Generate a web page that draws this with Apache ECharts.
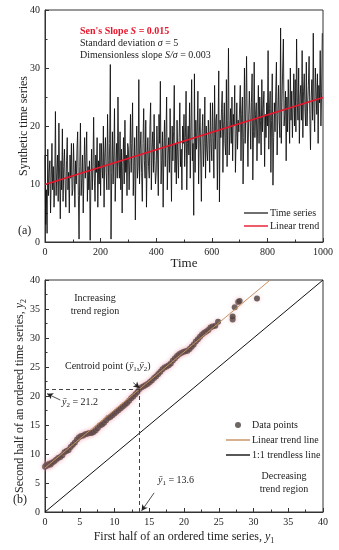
<!DOCTYPE html>
<html><head><meta charset="utf-8">
<script src="https://cdn.jsdelivr.net/npm/echarts@6/dist/echarts.min.js"></script>
<style>html,body{margin:0;padding:0;background:#fff}#c{width:339px;height:550px}</style>
</head><body><div id="c"></div>
<script>
// ---------- Panel (a) data ----------
const TIME_STEP = 2.5;
const seriesValues = [
15,3,9,1.5,16,8,12,14,5,11,17,9,13,6,10,22.5,8,12,15,7,20.5,11,4,14,9,19.5,7,13,16,10,6,14,18,9,12,5,15,11,17,8,
9,17,12,6,14,10,16,19,8,0.5,13,20.5,8,11,15,5,12,18,11,14,19,7,13,9,14,0.3,10,16,9,13,21.5,11,7,15,12,18,6,14,10,17,
8,17,13,11,20,6,15,18,12,9,22,14,9,17,30.6,0.5,12,19,10,15,23,7,13,17,11,25,14,11,19,9,16,5,13,18,10,21,12,15,8,17,
16,9,14,22,12,17,24,8,13,18,3.8,15,20,11,13,28,10,16,19,12,7,17,23,14,11,21,6,15,18,13,11,20,24,9,16,19,12,22,14,10,
12,20,15,8,22,17,27.7,10,14,19,6,16,21,13,18,25,9,15,18,12,23,16,7,20,14,19,27,12,17,10,21,15,11,18,24,13,16,9,20,17,
22,13,18,26,9,17,20,15,24,11,19,28,14,17,4.6,29,12,21,16,19,26,10,18,23,15,7,19,22,13,17,25,11,20,16,14,21,18,12,24,17,
14,24,18,11,27,16,21,22,9,19,29.5,6.9,21,18,23,26,12,20,24,17,15,28,13,21,33.4,15,19,23,17,25,14,22,20,27,12,18,24,16,21,19,
19,27,14,22,25,10,18,30,17,23,32,20,13,21,26,22,16,24,29,10.7,19,31,18,22,24,14,20,27,17,25,21,15,28,19,23,26,13,22,18,24,
20,33,16,23,26,12,21,29,9.8,18,24,19,26,31,15,22,27,21,18,36.9,17,24,30,35,20,22,26,14,25,19,28,23,17,30,21,26,18,24,29,20,
28,19,35,24,21,30,17,25,27,21,33,18,26,29,23,20,31,20,24,27,32,22,15.9,25,28,21,36,23,19,30,26,22,29,17,27,24,33,20,26,36
];
const trendTime = [0, 1000];
const trendValue = [9.9, 24.9];
const axisTicksA = { xMin: 0, xMax: 1000, xStep: 200, yMin: 0, yMax: 40, yStep: 10 };

// ---------- Panel (b) data ----------
const firstHalf = [0,0.2,0.4,0.6,0.8,1.0,1.3,1.6,1.9,2.2,2.5,2.8,3.1,3.4,3.7,4.0,4.3,4.6,4.9,5.2,5.5,5.8,6.1,6.4,6.7,7.0,7.3,7.6,7.9,8.2,8.5,8.8,9.1,9.4,9.7,10.0,10.3,10.6,10.9,11.2,11.5,11.8,12.1,12.4,12.7,13.0,13.3,13.6,13.9,14.2,14.5,14.8,15.1,15.4,15.7,16.0,16.3,16.6,16.9,17.2,17.5,17.8,18.1,18.4,18.7,19.0,19.3,19.6,19.9,20.2,20.5,20.8,21.1,21.4,21.7,22.0,22.3,22.6,22.9,23.2,23.5,23.8,24.1,24.5,24.9,27.0,27.0,27.3,27.8,28.0,30.5];
const secondHalf = [7.8,8.1,8.0,8.3,8.2,8.5,8.7,9.0,9.3,9.5,9.8,10.3,10.5,10.7,11.2,11.6,12.0,12.5,12.9,13.1,13.2,13.4,13.5,13.6,13.6,13.8,14.1,14.5,14.9,15.1,15.4,15.8,16.2,16.4,16.7,17.0,17.3,17.6,17.9,18.2,18.5,18.8,19.2,19.6,19.9,20.3,20.7,21.2,21.5,21.7,21.9,22.1,22.4,22.7,23.1,23.4,23.8,24.2,24.6,24.9,25.1,25.3,25.6,26.1,26.5,26.9,27.2,27.4,27.6,27.7,27.8,28.1,28.5,28.9,29.4,29.8,30.2,30.6,30.9,31.1,31.4,31.8,32.0,32.1,32.8,33.2,33.7,35.3,36.2,36.4,36.8];
const trendLineX = [0, 32.4];
const trendLineY = [7.6, 40];
const oneToOneX = [0, 40];
const oneToOneY = [0, 40];
const centroid = [13.6, 21.2];
const axisTicksB = { min: 0, max: 40, step: 5 };

const FONT = '"Liberation Serif","Times New Roman",serif';
const txt = '#222';
const LINE_ICON = 'path://M0,0H24V1.4H0Z';

const chart = echarts.init(document.getElementById('c'), null, {renderer: 'canvas'});

function axisCommon(min, max, step, minorSplit) {
  return {
    type: 'value', min: min, max: max, interval: step,
    axisLine: {show: true, lineStyle: {color: '#333', width: 1}},
    axisTick: {show: true, inside: true, length: 4, lineStyle: {color: '#333'}},
    minorTick: {show: true, splitNumber: minorSplit, length: 2.5, lineStyle: {color: '#333'}},
    splitLine: {show: false},
    axisLabel: {color: txt, fontFamily: FONT, fontSize: 10, margin: 5, formatter: v => String(v)},
    nameLocation: 'middle',
    nameMoveOverlap: false,
    nameTextStyle: {color: txt, fontFamily: FONT, fontSize: 12}
  };
}

const tsData = seriesValues.map((v, i) => [i * TIME_STEP, v]);
const trendData = trendTime.map((t, i) => [t, trendValue[i]]);
const scatterData = firstHalf.map((x, i) => [x, secondHalf[i]]);
const tlData = trendLineX.map((x, i) => [x, trendLineY[i]]);
const ooData = oneToOneX.map((x, i) => [x, oneToOneY[i]]);

const arrowStyle = {color: '#222', width: 0.8, type: 'solid'};
const subRich = {
  t: {fontFamily: FONT, fontSize: 12, color: txt, verticalAlign: 'bottom'},
  i: {fontFamily: FONT, fontSize: 12, fontStyle: 'italic', color: txt, verticalAlign: 'bottom'},
  s: {fontFamily: FONT, fontSize: 8, color: txt, verticalAlign: 'bottom', padding: [0,0,-2,0]}
};
const annRich = {
  n: {fontFamily: FONT, fontSize: 10, fill: txt, verticalAlign: 'bottom'},
  i: {fontFamily: FONT, fontSize: 10, fill: txt, fontStyle: 'italic', verticalAlign: 'bottom'},
  s: {fontFamily: FONT, fontSize: 7, fill: txt, verticalAlign: 'bottom', padding: [0,0,-2,0]}
};

chart.setOption({
  animation: false,
  backgroundColor: '#fff',
  grid: [
    {left: 45, top: 10, width: 278, height: 232, show: true, borderColor: '#333', borderWidth: 1, outerBoundsMode: 'none', containLabel: false},
    {left: 45, top: 280, width: 278, height: 232, show: true, borderColor: '#333', borderWidth: 1, outerBoundsMode: 'none', containLabel: false}
  ],
  xAxis: [
    Object.assign(axisCommon(axisTicksA.xMin, axisTicksA.xMax, axisTicksA.xStep, 2), {
      gridIndex: 0, name: 'Time', nameGap: 15,
      nameTextStyle: {color: txt, fontFamily: FONT, fontSize: 13}
    }),
    Object.assign(axisCommon(axisTicksB.min, axisTicksB.max, axisTicksB.step, 2), {
      gridIndex: 1, nameGap: 19,
      name: '{t|First half of an ordered time series, }{i|y}{s|1}',
      nameTextStyle: {color: txt, fontFamily: FONT, fontSize: 12, rich: subRich}
    })
  ],
  yAxis: [
    Object.assign(axisCommon(axisTicksA.yMin, axisTicksA.yMax, axisTicksA.yStep, 2), {
      gridIndex: 0, name: 'Synthetic time series', nameGap: 15
    }),
    Object.assign(axisCommon(axisTicksB.min, axisTicksB.max, axisTicksB.step, 2), {
      gridIndex: 1, nameGap: 19,
      name: '{t|Second half of an ordered time series, }{i|y}{s|2}',
      nameTextStyle: {color: txt, fontFamily: FONT, fontSize: 12, rich: subRich}
    })
  ],
  legend: [
    {
      data: [{name: 'Time series', icon: LINE_ICON}, {name: 'Linear trend', icon: LINE_ICON}],
      orient: 'vertical', left: 239, top: 203,
      itemWidth: 24, itemHeight: 8, itemGap: 3,
      textStyle: {fontFamily: FONT, fontSize: 10, color: txt, padding: [0,0,0,-3]}
    },
    {
      data: [{name: 'Data points', icon: 'circle'}, {name: 'Linear trend line', icon: LINE_ICON}, {name: '1:1 trendless line', icon: LINE_ICON}],
      orient: 'vertical', left: 221, top: 415,
      itemWidth: 24, itemHeight: 6, itemGap: 5,
      textStyle: {fontFamily: FONT, fontSize: 10, color: txt, padding: [0,0,0,-3]}
    }
  ],
  series: [
    {
      name: 'Time series', type: 'line', xAxisIndex: 0, yAxisIndex: 0, data: tsData,
      symbol: 'none', lineStyle: {color: '#0d0d0d', width: 0.85}, itemStyle: {color: '#333'}, z: 2
    },
    {
      name: 'Linear trend', type: 'line', xAxisIndex: 0, yAxisIndex: 0, data: trendData,
      symbol: 'none', lineStyle: {color: '#e8152b', width: 1.6}, itemStyle: {color: '#e8152b'}, z: 3
    },
    {
      name: '1:1 trendless line', type: 'line', xAxisIndex: 1, yAxisIndex: 1, data: ooData,
      symbol: 'none', lineStyle: {color: '#111', width: 1}, itemStyle: {color: '#111'}, z: 2,
      markLine: {
        silent: true, symbol: ['none', 'none'], label: {show: false},
        lineStyle: {color: '#444', width: 1, type: [4, 3]},
        data: [
          [{coord: [0, centroid[1]]}, {coord: [centroid[0], centroid[1]]}],
          [{coord: [centroid[0], 0]}, {coord: [centroid[0], centroid[1]]}]
        ]
      }
    },
    {
      name: 'Data points', type: 'scatter', xAxisIndex: 1, yAxisIndex: 1, data: scatterData,
      symbolSize: 6, itemStyle: {color: '#4a403b', shadowColor: 'rgba(240,150,170,0.6)', shadowBlur: 4}, z: 3
    },
    {
      name: 'Linear trend line', type: 'line', xAxisIndex: 1, yAxisIndex: 1, data: tlData,
      symbol: 'none', lineStyle: {color: '#c8905e', width: 1}, itemStyle: {color: '#c8905e'}, z: 4,
      markLine: {
        silent: true, symbol: ['none', 'arrow'], symbolSize: [5, 6], label: {show: false},
        lineStyle: arrowStyle,
        data: [
          [{coord: [12.7, 22.3]}, {coord: [13.6, 21.4]}],
          [{coord: [2.2, 19.3]}, {coord: [0.3, 20.4]}],
          [{coord: [15.7, 3.3]}, {coord: [13.9, 0.2]}]
        ]
      }
    }
  ],
  graphic: [
    {type: 'text', left: 80, top: 26, style: {text: "{r|Sen's Slope }{ri|S}{r| = 0.015}", rich: {
      r: {fontFamily: FONT, fontSize: 10, fill: '#e8152b', fontWeight: 'bold'},
      ri: {fontFamily: FONT, fontSize: 10, fill: '#e8152b', fontWeight: 'bold', fontStyle: 'italic'}}}},
    {type: 'text', left: 80, top: 38, style: {text: '{n|Standard deviation }{i|σ}{n| = 5}', rich: annRich}},
    {type: 'text', left: 80, top: 50, style: {text: '{n|Dimensionless slope }{i|S/σ}{n| = 0.003}', rich: annRich}},
    {type: 'text', left: 18, top: 225, style: {text: '(a)', fontFamily: FONT, fontSize: 12, fill: txt}},
    {type: 'text', left: 13, top: 494, style: {text: '(b)', fontFamily: FONT, fontSize: 12, fill: txt}},
    {type: 'text', x: 95, y: 292, style: {text: 'Increasing\ntrend region', fontFamily: FONT, fontSize: 10, fill: txt, align: 'center', lineHeight: 13}},
    {type: 'text', x: 284, y: 470, style: {text: 'Decreasing\ntrend region', fontFamily: FONT, fontSize: 10, fill: txt, align: 'center', lineHeight: 13}},
    {type: 'text', left: 65, top: 361, style: {text: '{n|Centroid point (}{i|ȳ}{s|1}{n|,}{i|ȳ}{s|2}{n|)}', rich: annRich}},
    {type: 'text', left: 62, top: 397, style: {text: '{i|ȳ}{s|2}{n| = 21.2}', rich: annRich}},
    {type: 'text', left: 158, top: 475, style: {text: '{i|ȳ}{s|1}{n| = 13.6}', rich: annRich}}
  ]
});
</script>
</body></html>
